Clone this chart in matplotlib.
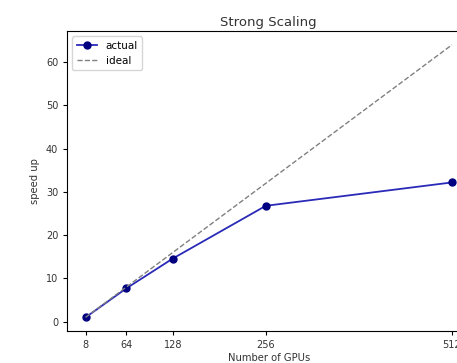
import matplotlib.pyplot as plt

gpus = [8, 64, 128, 256, 512]
actual = [1.0, 7.7, 14.6, 26.8, 32.2]
ideal = [g / 8 for g in gpus]

fig = plt.figure(figsize=(4.57, 3.63), dpi=100)
# axes run past the right edge, as in the (cropped) reference
ax = fig.add_axes([0.147, 0.088, 0.882, 0.826])

ax.plot(gpus, actual, color='#2a2ab8', marker='o', markersize=5,
        markerfacecolor='navy', markeredgecolor='navy', linewidth=1.3, label='actual')
ax.plot(gpus, ideal, color='gray', linestyle='--', linewidth=1.0, label='ideal')

ax.set_xticks(gpus)
ax.set_yticks([0, 10, 20, 30, 40, 50, 60])
ax.tick_params(labelsize=7, length=3, labelcolor='#333333')
ax.set_xlabel('Number of GPUs', fontsize=7.2, labelpad=2, color='#333333')
ax.set_ylabel('speed up', fontsize=7.2, color='#333333')
ax.set_title('Strong Scaling', fontsize=9.5, pad=4, color='#333333')
ax.legend(loc='upper left', fontsize=7.5)

fig.savefig('out.png', dpi=100)
